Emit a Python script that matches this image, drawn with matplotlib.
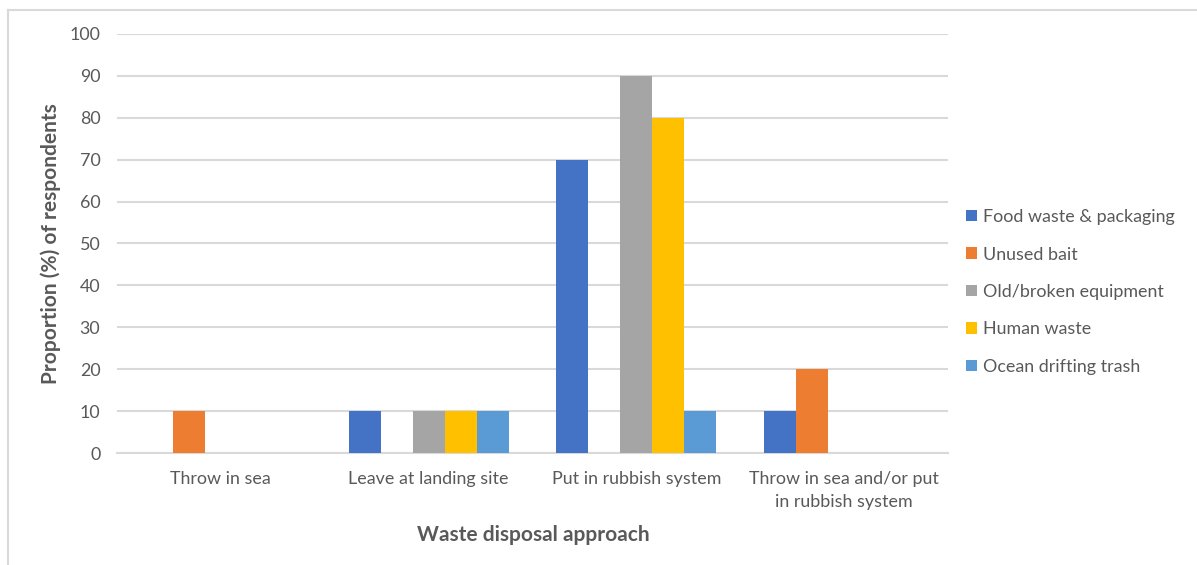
import matplotlib
matplotlib.use("Agg")
import matplotlib.pyplot as plt
from matplotlib.lines import Line2D
import numpy as np

categories = ["Throw in sea", "Leave at landing site", "Put in rubbish system",
              "Throw in sea and/or put\nin rubbish system"]
series_names = ["Food waste & packaging", "Unused bait", "Old/broken equipment",
                "Human waste", "Ocean drifting trash"]
food_waste = [0, 10, 70, 10]
unused_bait = [10, 0, 0, 20]
old_equipment = [0, 10, 90, 0]
human_waste = [0, 10, 80, 0]
drifting_trash = [0, 10, 10, 0]
y_ticks = [0, 10, 20, 30, 40, 50, 60, 70, 80, 90, 100]

values = [food_waste, unused_bait, old_equipment, human_waste, drifting_trash]
colors = ["#4472C4", "#ED7D31", "#A5A5A5", "#FFC000", "#5B9BD5"]

plt.rcParams["font.family"] = ["Lato", "DejaVu Sans"]
text_color = "#595959"
grid_color = "#D9D9D9"

W, H = 1197, 565
fig = plt.figure(figsize=(W / 100, H / 100), dpi=100)
ax = fig.add_axes([117 / W, 1 - 453 / H, (948 - 117) / W, (453 - 34) / H])

n = len(series_names)
gap = 1.5
bar_w = 1.0 / (n + gap)
x = np.arange(len(categories))
for i, (vals, col, name) in enumerate(zip(values, colors, series_names)):
    ax.bar(x + (i - (n - 1) / 2) * bar_w, vals, width=bar_w, color=col,
           label=name, zorder=3)

ax.set_xlim(-0.5, len(categories) - 0.5)
ax.set_ylim(0, 100)
ax.set_yticks(y_ticks)
ax.yaxis.grid(True, color=grid_color, linewidth=1.5, zorder=0)
ax.set_axisbelow(True)
for side in ["top", "right", "left"]:
    ax.spines[side].set_visible(False)
ax.spines["bottom"].set_color(grid_color)
ax.spines["bottom"].set_linewidth(1.5)
ax.tick_params(axis="both", length=0, colors=text_color, labelsize=12.9)
ax.tick_params(axis="y", pad=12)
ax.tick_params(axis="x", pad=13)
ax.set_xticks(x)
ax.set_xticklabels(categories, linespacing=1.5)

ax.set_ylabel("Proportion (%) of respondents", fontsize=15, fontweight="bold",
              color=text_color, labelpad=6)
fig.text(533 / W, 1 - 535 / H, "Waste disposal approach", fontsize=15,
         fontweight="bold", color=text_color, ha="center", va="center")

leg = ax.legend(loc="center left", bbox_to_anchor=(950 / W, 1 - 292 / H),
                bbox_transform=fig.transFigure, frameon=False,
                handlelength=0.6, handleheight=0.6, handletextpad=0.35,
                labelspacing=1.2, fontsize=12.9)
for t in leg.get_texts():
    t.set_color(text_color)

# light chart-area border along the top and left edges
fig.add_artist(Line2D([8 / W, 1196 / W], [1 - 10 / H, 1 - 10 / H],
                      transform=fig.transFigure, color=grid_color, linewidth=1.5))
fig.add_artist(Line2D([8 / W, 8 / W], [1 - 10 / H, 0],
                      transform=fig.transFigure, color=grid_color, linewidth=1.5))

fig.savefig("out.png", dpi=100, facecolor="white")
